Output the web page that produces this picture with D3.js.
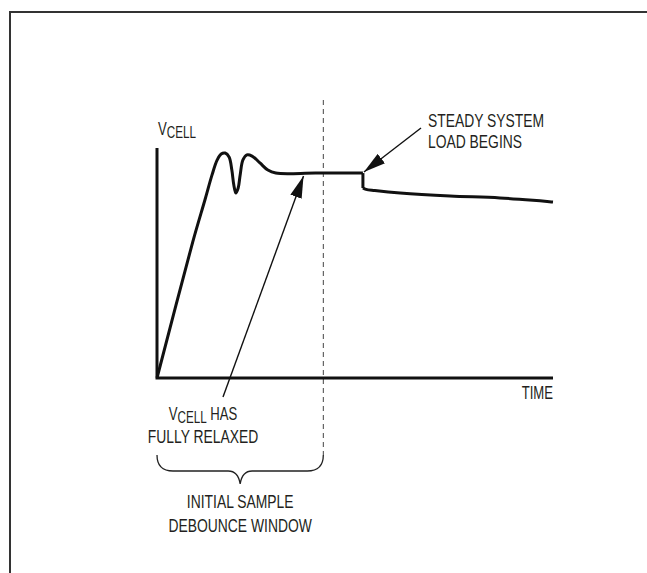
<!DOCTYPE html>
<html lang="en">
<head>
  <meta charset="UTF-8">
  <title>VCELL debounce</title>
  <script src="https://d3js.org/d3.v7.min.js"></script>
  <style>
    html, body { margin: 0; background: #fff; overflow: hidden; }
    svg { display: block; }
    text { font-family: "Liberation Sans", Arial, sans-serif; fill: #231f20; }
  </style>
</head>
<body>
  <svg id="chart" width="647" height="573"></svg>
  <script>
    // cell voltage vs time (arbitrary units)
    // settling part: ramp, ringing, flat
    const settleTime = [0, 9, 12.1, 13.9, 15.2, 16.2, 17.2, 18.2, 18.9, 19.4, 19.9, 20.5, 21, 21.7, 22.7, 24, 26, 28, 30, 40, 52];
    const settleV    = [0, 59, 77.4, 88.3, 94.8, 97.4, 97.8, 96.1, 90.4, 83.9, 80.4, 82.6, 88.3, 94.8, 97, 96.5, 93.5, 90.4, 89.1, 89.1, 89.1];
    // after the load step
    const loadTime = [52, 52.8, 55, 61.4, 74, 86.6, 100];
    const loadV    = [82.6, 82.0, 81.5, 80.4, 79.1, 78.3, 76.5];

    const debounceEnd = 42;   // end of initial sample window
    const relaxedAt = [37, 89.1];

    const axisLabels = { y: ['V', 'CELL'], x: 'TIME' };
    const relaxedLabel = [['V', 'CELL', ' HAS'], ['FULLY RELAXED']];
    const loadLabel = ['STEADY SYSTEM', 'LOAD BEGINS'];
    const windowLabel = ['INITIAL SAMPLE', 'DEBOUNCE WINDOW'];

    const svg = d3.select('#chart');

    const x = d3.scaleLinear().domain([0, 100]).range([157, 553]);
    const y = d3.scaleLinear().domain([0, 100]).range([378, 148]);

    // outer frame, runs off the right and bottom
    svg.append('rect')
      .attr('x', 10).attr('y', 12)
      .attr('width', 700).attr('height', 700)
      .attr('fill', 'none').attr('stroke', '#333').attr('stroke-width', 2);

    svg.append('defs').append('marker')
      .attr('id', 'head')
      .attr('viewBox', '0 0 22 12')
      .attr('refX', 22).attr('refY', 6)
      .attr('markerWidth', 22).attr('markerHeight', 12)
      .attr('markerUnits', 'userSpaceOnUse')
      .attr('orient', 'auto')
      .append('path').attr('d', 'M0,0L22,6L0,12Z').attr('fill', '#111');

    // dashed window marker
    svg.append('line')
      .attr('x1', x(debounceEnd)).attr('x2', x(debounceEnd))
      .attr('y1', 100).attr('y2', 455)
      .attr('stroke', '#444').attr('stroke-width', 1)
      .attr('stroke-dasharray', '5,4');

    // axes (plain lines, no ticks)
    svg.append('path')
      .attr('d', `M${x(0)},${y(100)}V${y(0)}H${x(100)}`)
      .attr('fill', 'none')
      .attr('stroke', '#111').attr('stroke-width', 3);

    const line = d3.line()
      .x(d => x(d[0])).y(d => y(d[1]))
      .curve(d3.curveCatmullRom.alpha(0.5));

    const settle = settleTime.map((t, i) => [t, settleV[i]]);
    const load = loadTime.map((t, i) => [t, loadV[i]]);
    const last = settle[settle.length - 1];
    const curve = svg.append('g')
      .attr('fill', 'none')
      .attr('stroke', '#111')
      .attr('stroke-width', 3)
      .attr('stroke-linejoin', 'round');
    curve.append('path').datum(settle).attr('d', line);
    // the step itself is a straight drop
    curve.append('path').datum([last, load[0]])
      .attr('d', d3.line().x(d => x(d[0])).y(d => y(d[1])));
    curve.append('path').datum(load).attr('d', line);

    // arrows
    svg.append('line')
      .attr('x1', 223).attr('y1', 397)
      .attr('x2', x(relaxedAt[0])).attr('y2', y(relaxedAt[1]) + 3)
      .attr('stroke', '#111').attr('stroke-width', 1.4)
      .attr('marker-end', 'url(#head)');

    svg.append('line')
      .attr('x1', 421).attr('y1', 128)
      .attr('x2', x(last[0]) + 1).attr('y2', y(last[1]) - 1)
      .attr('stroke', '#111').attr('stroke-width', 1.4)
      .attr('marker-end', 'url(#head)');

    // brace under the debounce window
    const bx0 = x(0), bx1 = x(debounceEnd), bm = (bx0 + bx1) / 2;
    const bTop = 455, bMid = 471, bTip = 484;
    svg.append('path')
      .attr('d', `M${bx0},${bTop} Q${bx0},${bMid} ${bx0 + 16},${bMid} H${bm - 12} Q${bm - 2},${bMid} ${bm},${bTip}` +
                 ` Q${bm + 2},${bMid} ${bm + 12},${bMid} H${bx1 - 16} Q${bx1},${bMid} ${bx1},${bTop}`)
      .attr('fill', 'none').attr('stroke', '#222').attr('stroke-width', 1.3);

    const sx = 0.73; // condensed face
    const addText = (xx, yy, anchor, parts, size) => {
      const t = svg.append('text')
        .attr('transform', `translate(${xx},${yy}) scale(${sx},1)`)
        .attr('text-anchor', anchor)
        .attr('font-size', size);
      parts.forEach((p, i) => {
        const ts = t.append('tspan').text(p);
        if (p === 'CELL') ts.attr('font-size', size - 2).attr('dy', 3);
        else if (i > 0 && parts[i - 1] === 'CELL') ts.attr('dy', -3);
      });
      return t;
    };

    addText(x(0) + 1, 135, 'start', axisLabels.y, 18);
    addText(x(100), 399, 'end', [axisLabels.x], 18);

    addText(203, 420, 'middle', relaxedLabel[0], 18);
    addText(203, 443, 'middle', relaxedLabel[1], 19);

    addText(428, 127, 'start', [loadLabel[0]], 19);
    addText(428, 148, 'start', [loadLabel[1]], 19);

    addText(bm, 508, 'middle', [windowLabel[0]], 19);
    addText(bm, 532, 'middle', [windowLabel[1]], 19);
  </script>
</body>
</html>
